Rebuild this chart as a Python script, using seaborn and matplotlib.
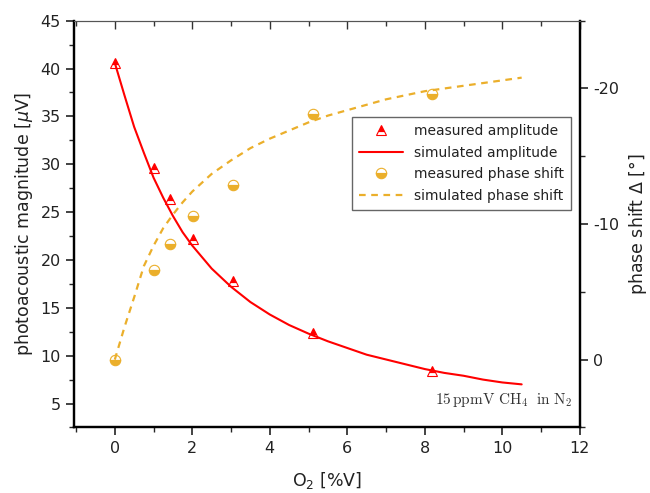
import matplotlib
matplotlib.use('Agg')
import matplotlib.pyplot as plt
import numpy as np
import pandas as pd
import seaborn as sns
from matplotlib.ticker import MultipleLocator

RED = '#ff0000'
GOLD = '#ebaf2b'

# measured points
o2_meas = [0.0, 1.0, 1.42, 2.03, 3.06, 5.12, 8.19]
amp_meas = [40.6, 29.6, 26.4, 22.2, 17.8, 12.4, 8.4]
phase_meas = [0.0, -6.6, -8.5, -10.6, -12.9, -18.1, -19.6]

# simulated curves
o2_sim = [0.0, 0.25, 0.5, 0.75, 1.0, 1.25, 1.5, 1.75, 2.0, 2.5, 3.0, 3.5, 4.0,
          4.5, 5.0, 5.5, 6.0, 6.5, 7.0, 7.5, 8.0, 8.5, 9.0, 9.5, 10.0, 10.5]
amp_sim = [40.6, 37.2, 33.9, 31.2, 28.6, 26.5, 24.6, 22.9, 21.5, 19.1, 17.2, 15.6, 14.3,
           13.2, 12.3, 11.5, 10.8, 10.1, 9.6, 9.1, 8.6, 8.2, 7.9, 7.5, 7.2, 7.0]
phase_sim = [0.0, -2.4, -4.6, -6.9, -8.4, -9.7, -10.7, -11.6, -12.4, -13.7, -14.7, -15.6, -16.3,
             -16.9, -17.5, -18.0, -18.4, -18.8, -19.2, -19.5, -19.8, -20.0, -20.2, -20.4, -20.6, -20.8]

sim = pd.DataFrame({'o2': o2_sim, 'amp': amp_sim, 'phase': phase_sim})

sns.set_style('ticks')
plt.rcParams['font.family'] = ['DejaVu Sans']
plt.rcParams['axes.unicode_minus'] = False

fig = plt.figure(figsize=(6.5, 4.93), dpi=100)
ax = fig.add_axes([0.114, 0.133, 0.778, 0.825])
ax2 = ax.twinx()

# amplitude on the left axis
h1, = ax.plot(o2_meas, amp_meas, linestyle='none', marker='^', markersize=7.5,
              fillstyle='top', color=RED, markeredgecolor=RED, markeredgewidth=0.8,
              label='measured amplitude', zorder=4)
sns.lineplot(data=sim, x='o2', y='amp', ax=ax, color=RED, linewidth=1.5,
             label='simulated amplitude')

# phase shift on the right axis
h3, = ax2.plot(o2_meas, phase_meas, linestyle='none', marker='o', markersize=7.5,
               fillstyle='bottom', color=GOLD, markeredgecolor=GOLD, markeredgewidth=0.8,
               label='measured phase shift', zorder=4)
sns.lineplot(data=sim, x='o2', y='phase', ax=ax2, color=GOLD, linewidth=1.6,
             linestyle=(0, (3, 2.5)), label='simulated phase shift')

ax.set_xlim(-1.05, 12)
ax.set_ylim(2.5, 45)
ax2.set_ylim(5, -25)

ax.xaxis.set_major_locator(MultipleLocator(2))
ax.xaxis.set_minor_locator(MultipleLocator(1))
ax.yaxis.set_major_locator(MultipleLocator(5))
ax.yaxis.set_minor_locator(MultipleLocator(2.5))
ax2.yaxis.set_major_locator(MultipleLocator(10))
ax2.yaxis.set_minor_locator(MultipleLocator(5))

ax.tick_params(axis='both', which='major', direction='out', length=6, width=1.2,
               labelsize=11.5, colors='#222222', top=False)
ax.tick_params(axis='both', which='minor', direction='out', length=3.5, width=1.0,
               top=False)
ax2.tick_params(axis='y', which='major', direction='out', length=6, width=1.2,
                labelsize=11.5, colors='#222222')
ax2.tick_params(axis='y', which='minor', direction='out', length=3.5, width=1.0)

# top ticks point inward (drawn with the twin's x axis)
ax2.xaxis.set_visible(True)
ax2.xaxis.set_major_locator(MultipleLocator(2))
ax2.xaxis.set_minor_locator(MultipleLocator(1))
ax2.tick_params(axis='x', which='both', bottom=False, labelbottom=False,
                top=True, labeltop=False, direction='in', colors='#333333')
ax2.tick_params(axis='x', which='major', length=6, width=1.0)
ax2.tick_params(axis='x', which='minor', length=3.5, width=1.0)
ax2.set_xlabel('')

for a in (ax, ax2):
    for s in a.spines.values():
        s.set_color('black')
    a.spines['left'].set_linewidth(1.6)
    a.spines['bottom'].set_linewidth(1.6)
    a.spines['right'].set_linewidth(1.6)
    a.spines['top'].set_linewidth(0.8)
    a.spines['top'].set_color('#555555')

ax.set_xlabel('O$_2$ [%V]', fontsize=12.5, color='#222222', labelpad=10)
ax.set_ylabel('photoacoustic magnitude [$\\mu$V]', fontsize=12.5, color='#222222', labelpad=4)
ax2.set_ylabel('phase shift $\\Delta$ [°]', fontsize=12.5, color='#222222', labelpad=6)

ax.text(0.985, 0.045, r'$\mathrm{15\,ppmV\ CH_4\ \ in\ N_2}$', transform=ax.transAxes,
        ha='right', va='bottom', fontsize=11, color='#333333', math_fontfamily='cm')

# combined legend
if ax2.get_legend() is not None:
    ax2.get_legend().remove()
lines1, labels1 = ax.get_legend_handles_labels()
lines2, labels2 = ax2.get_legend_handles_labels()
if ax.get_legend() is not None:
    ax.get_legend().remove()
leg = ax2.legend(lines1 + lines2, labels1 + labels2, loc='upper right',
                 bbox_to_anchor=(0.997, 0.78), fontsize=10, frameon=True,
                 fancybox=False, edgecolor='#666666', framealpha=1,
                 handlelength=3.2, labelspacing=0.55, borderpad=0.5)
leg.get_frame().set_linewidth(1.0)
for t in leg.get_texts():
    t.set_color('#222222')

fig.savefig('out.png', dpi=100)
